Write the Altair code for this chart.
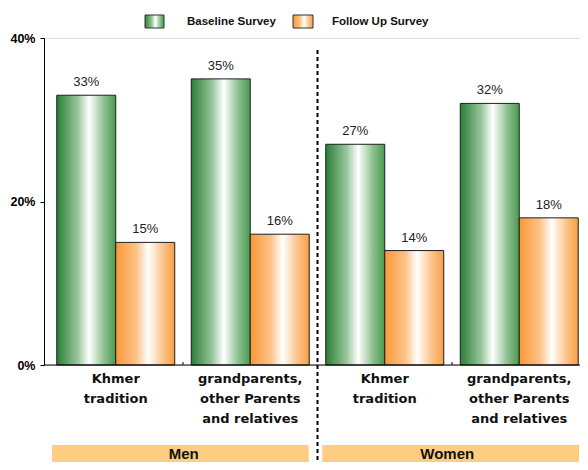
import altair as alt
import pandas as pd

categories = ["Men|Khmer", "Men|grandparents", "Women|Khmer", "Women|grandparents"]
cat_labels = ["Khmer\ntradition", "grandparents,\nother Parents\nand relatives",
              "Khmer\ntradition", "grandparents,\nother Parents\nand relatives"]
series = ["Baseline Survey", "Follow Up Survey"]
baseline = [0.33, 0.35, 0.27, 0.32]
followup = [0.15, 0.16, 0.14, 0.18]
group_names = ["Men", "Women"]

rows = []
for c, b, f in zip(categories, baseline, followup):
    rows.append({"cat": c, "series": series[0], "value": b})
    rows.append({"cat": c, "series": series[1], "value": f})
df = pd.DataFrame(rows)
lab_df = pd.DataFrame({"cat": categories, "label": cat_labels})
grp_df = pd.DataFrame({"group": group_names})

W, H = 536, 327

green = alt.LinearGradient(gradient="linear", x1=0, x2=1, y1=0, y2=0, stops=[
    alt.GradientStop(color="#2a7f36", offset=0),
    alt.GradientStop(color="#97c49a", offset=0.35),
    alt.GradientStop(color="#ffffff", offset=0.55),
    alt.GradientStop(color="#8cc08f", offset=0.8),
    alt.GradientStop(color="#4a9850", offset=1)])
orange = alt.LinearGradient(gradient="linear", x1=0, x2=1, y1=0, y2=0, stops=[
    alt.GradientStop(color="#f99836", offset=0),
    alt.GradientStop(color="#fcc389", offset=0.35),
    alt.GradientStop(color="#ffffff", offset=0.55),
    alt.GradientStop(color="#fcc389", offset=0.8),
    alt.GradientStop(color="#f99f46", offset=1)])

xscale = alt.Scale(domain=categories, range=[4.5, 542.5], paddingInner=0, paddingOuter=0)
offscale = alt.Scale(domain=series, paddingInner=0, paddingOuter=0.14)
yscale = alt.Scale(domain=[0, 0.4], nice=False)

base = alt.Chart(df)

def xenc():
    return alt.X("cat:N", scale=xscale, axis=None, sort=categories)

bars_b = base.transform_filter(alt.datum.series == series[0]).mark_bar(
    fill=green, stroke="#1e1e1e", strokeWidth=1).encode(
    x=xenc(),
    xOffset=alt.XOffset("series:N", scale=offscale),
    y=alt.Y("value:Q", scale=yscale,
            axis=alt.Axis(values=[0, 0.2, 0.4], format=".0%", title=None, grid=False,
                          domainColor="#000", tickColor="#000", tickSize=4,
                          labelFont="Arial", labelFontWeight="bold", labelFontSize=12.5,
                          labelColor="#000", labelPadding=5)),
)
bars_f = base.transform_filter(alt.datum.series == series[1]).mark_bar(
    fill=orange, stroke="#1e1e1e", strokeWidth=1).encode(
    x=xenc(),
    xOffset=alt.XOffset("series:N", scale=offscale),
    y=alt.Y("value:Q", scale=yscale),
)
vals = base.mark_text(font="Arial", fontSize=13, color="#222", baseline="bottom", dy=-6).encode(
    x=xenc(),
    xOffset=alt.XOffset("series:N", scale=offscale),
    y=alt.Y("value:Q", scale=yscale),
    text=alt.Text("value:Q", format=".0%"),
)

xline = alt.Chart(grp_df.head(1)).mark_rule(color="#000", strokeWidth=1).encode(
    x=alt.value(0), x2=alt.value(W), y=alt.value(H))

xticks = alt.Chart(lab_df.iloc[[1, 3]]).mark_rule(color="#000", strokeWidth=1).encode(
    x=alt.X("cat:N", scale=xscale, axis=None, sort=categories, bandPosition=0),
    y=alt.value(H - 3), y2=alt.value(H),
)

labels = alt.Chart(lab_df).mark_text(font="DejaVu Sans", fontWeight="bold", fontSize=13,
                                     color="#111", baseline="top", lineBreak="\n",
                                     lineHeight=20).encode(
    x=xenc(),
    y=alt.value(H + 8),
    text="label:N",
)

divider = alt.Chart(lab_df.iloc[[2]]).mark_rule(color="#000", strokeWidth=2, strokeDash=[4, 3]).encode(
    x=alt.X("cat:N", scale=xscale, axis=None, sort=categories, bandPosition=0),
    y=alt.value(12), y2=alt.value(H + 97),
)

gscale = alt.Scale(domain=group_names, range=[8, 535], paddingInner=0.05, paddingOuter=0)
boxes = alt.Chart(grp_df).mark_bar(color="#fecd82").encode(
    x=alt.X("group:N", scale=gscale, axis=None),
    y=alt.value(H + 80), y2=alt.value(H + 97),
)
box_text = alt.Chart(grp_df).mark_text(font="Arial", fontWeight="bold", fontSize=15,
                                       color="#111", baseline="middle").encode(
    x=alt.X("group:N", scale=gscale, axis=None),
    y=alt.value(H + 89),
    text="group:N",
)

# legend
leg_df = pd.DataFrame({"series": series})
leg_sq_b = alt.Chart(leg_df.head(1)).mark_rect(fill=green, stroke="#333", strokeWidth=1).encode(
    x=alt.value(101), x2=alt.value(120), y=alt.value(-23), y2=alt.value(-10))
leg_sq_f = alt.Chart(leg_df.tail(1)).mark_rect(fill=orange, stroke="#333", strokeWidth=1).encode(
    x=alt.value(249), x2=alt.value(269), y=alt.value(-23), y2=alt.value(-10))
leg_t_b = alt.Chart(leg_df.head(1)).mark_text(font="Arial", fontWeight="bold", fontSize=11.5,
                                              align="left", baseline="middle", color="#111").encode(
    x=alt.value(143), y=alt.value(-16), text="series:N")
leg_t_f = alt.Chart(leg_df.tail(1)).mark_text(font="Arial", fontWeight="bold", fontSize=11.5,
                                              align="left", baseline="middle", color="#111").encode(
    x=alt.value(288), y=alt.value(-16), text="series:N")

chart = alt.layer(
    boxes, box_text, divider, bars_b, bars_f, vals, xline, xticks, labels,
    leg_sq_b, leg_sq_f, leg_t_b, leg_t_f
).resolve_scale(x="independent").properties(
    width=W, height=H,
    autosize=alt.AutoSizeParams(type="none"),
    padding={"left": 36, "top": 30, "right": 0, "bottom": 97},
).configure_view(stroke=None).configure(background="white")

chart.save("out.html", embed_options={"renderer": "svg", "actions": False})
